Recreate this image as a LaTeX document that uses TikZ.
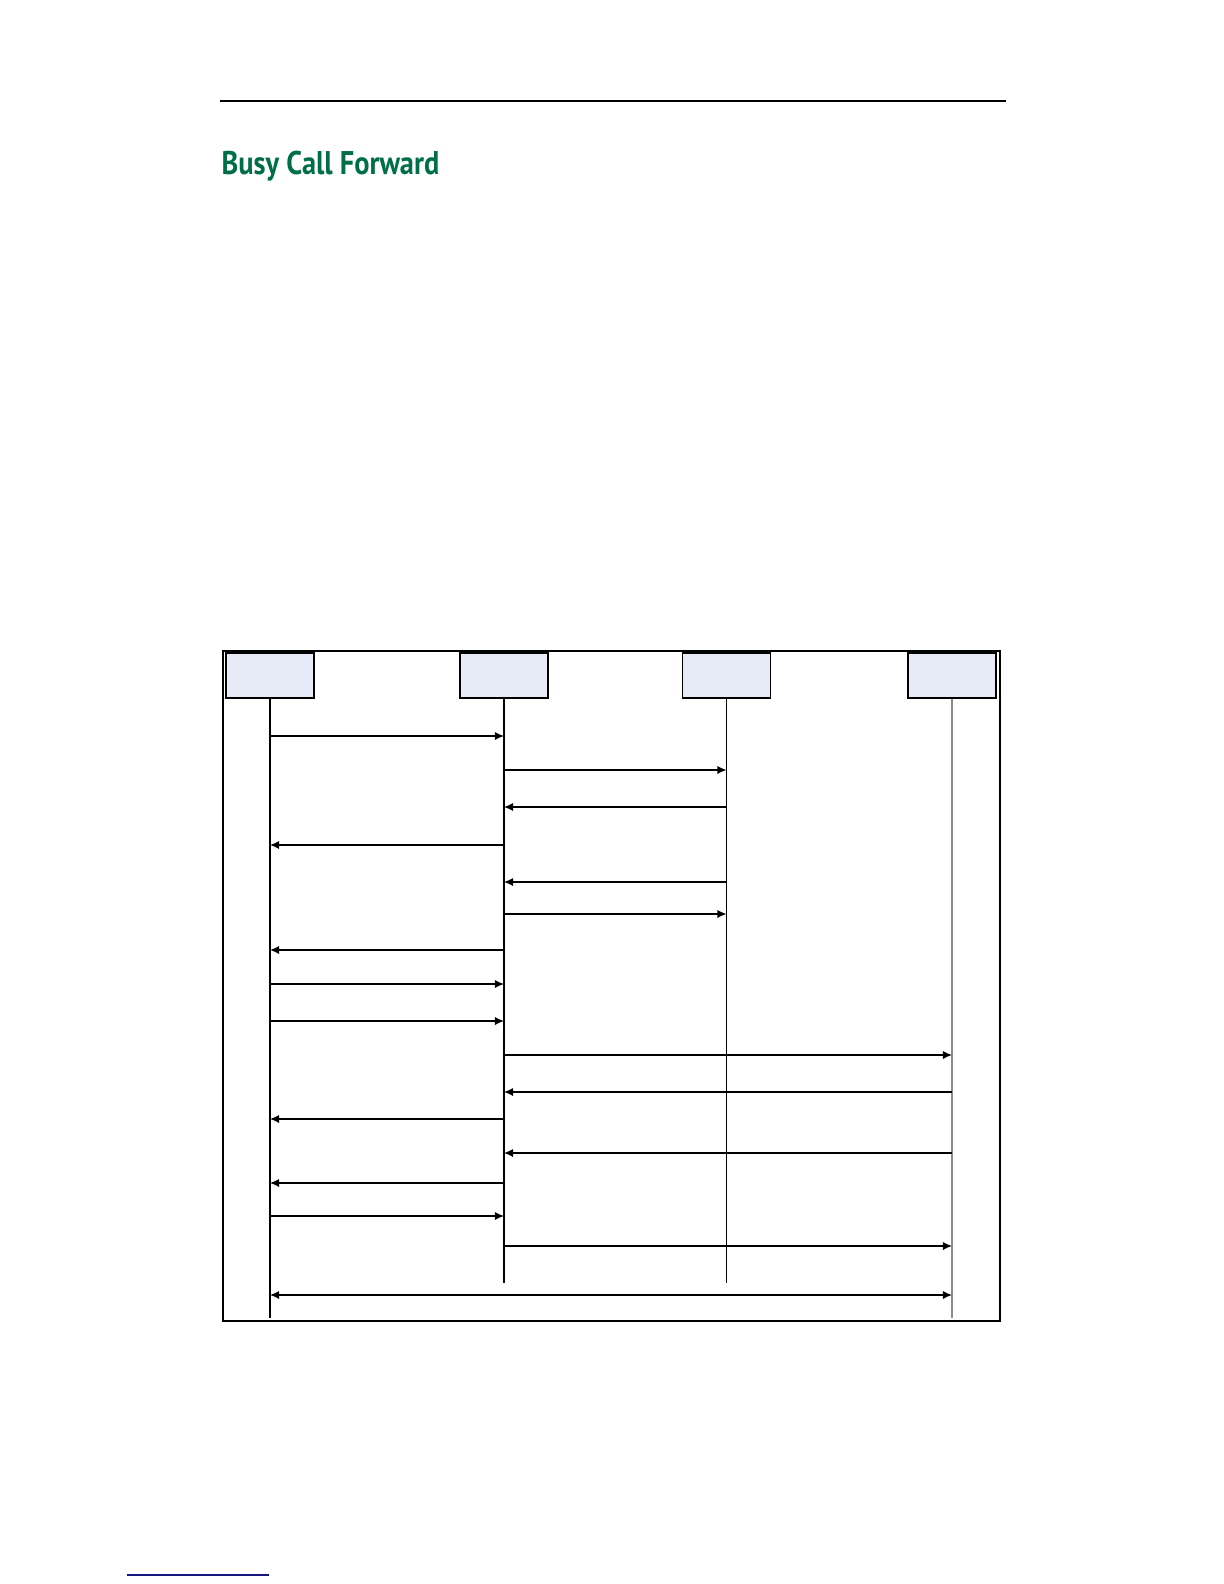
\documentclass[tikz,border=0pt]{standalone}
\usepackage{fontspec}
\setmainfont{PT Sans}
\usetikzlibrary{arrows.meta}
\definecolor{titlegreen}{RGB}{0,110,70}
\definecolor{boxfill}{RGB}{230,235,247}
\definecolor{linkblue}{RGB}{20,20,130}

\begin{document}
\begin{tikzpicture}[x=0.5pt, y=-0.5pt, >={Latex[length=4.6pt,width=4.2pt]}, line width=0.7pt,
        party/.style={draw, fill=boxfill, line width=0.8pt, minimum width=44pt, minimum height=22.5pt, inner sep=0pt},
        msg/.style={->}]
        \useasboundingbox (0,0) rectangle (1224,1584);
        % header rule and title
        \draw[line width=1.4pt] (220,101) -- (1006,101);
        \node[anchor=base west, inner sep=0pt, font=\fontsize{16.4}{18}\selectfont\bfseries, text=titlegreen] (title) at (221,174) {\scalebox{0.865}[1]{Busy Call Forward}};

        % frame
        \draw (223,651) rectangle (1000,1321);

        % nodes
        \node[party] (A) at (270,675.5) {};
        \node[party] (B) at (504,675.5) {};
        \node[party] (C) at (726.5,675.5) {};
        \node[party] (D) at (952,675.5) {};

        % lifelines
        \coordinate (Aend) at (270,1318);
        \coordinate (Bend) at (504,1283);
        \coordinate (Cend) at (726.5,1283);
        \coordinate (Dend) at (952,1318);
        \draw (A) -- (Aend);
        \draw (B) -- (Bend);
        \draw (C) -- (Cend);
        \draw[black!45] (D) -- (Dend);

        % messages
        \foreach \y/\from/\to in {736/A/B, 770/B/C, 807/C/B, 845/B/A, 882/C/B, 914/B/C, 950/B/A, 984/A/B,
                1021/A/B, 1055/B/D, 1092/D/B, 1119/B/A, 1153/D/B, 1183/B/A, 1216/A/B, 1246/B/D}
            \draw[msg] (\from |- 0,\y) -- (\to |- 0,\y);
        \draw[<->] (A |- 0,1295) -- (D |- 0,1295);

        % footer link line
        \draw[linkblue, line width=0.6pt] (127,1575) -- (269,1575);
    \end{tikzpicture}
\end{document}
